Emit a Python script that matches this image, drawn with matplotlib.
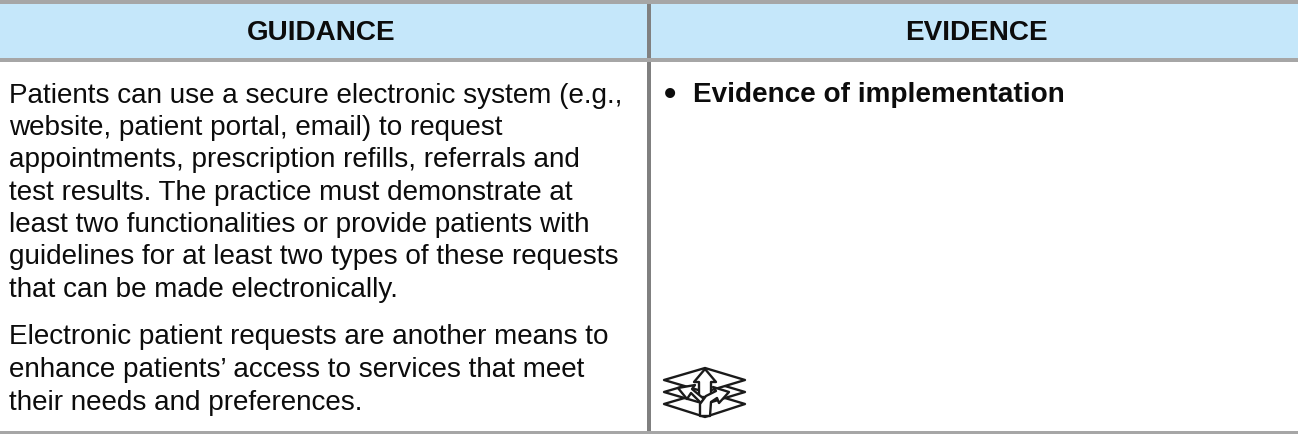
import matplotlib
matplotlib.use("Agg")
import matplotlib.pyplot as plt
from matplotlib.patches import Rectangle, Polygon

headers = ["GUIDANCE", "EVIDENCE"]
guidance_lines = [
    "Patients can use a secure electronic system (e.g.,",
    "website, patient portal, email) to request",
    "appointments, prescription refills, referrals and",
    "test results. The practice must demonstrate at",
    "least two functionalities or provide patients with",
    "guidelines for at least two types of these requests",
    "that can be made electronically.",
]
guidance_lines2 = [
    "Electronic patient requests are another means to",
    "enhance patients\u2019 access to services that meet",
    "their needs and preferences.",
]
evidence_item = "Evidence of implementation"
line_y1 = [103, 135, 167, 199.5, 231.5, 264, 297]
line_y2 = [344, 377, 410]

plt.rcParams['font.family'] = ['Liberation Sans', 'DejaVu Sans']
fig = plt.figure(figsize=(12.98, 4.34), dpi=100)
ax = fig.add_axes([0, 0, 1, 1])
ax.set_xlim(0, 1298)
ax.set_ylim(434, 0)
ax.axis('off')

ax.add_patch(Rectangle((0, 4), 1298, 54, fc='#C5E7FA', ec='none'))
ax.add_patch(Rectangle((647, 0), 4, 431, fc='#808080', ec='none', zorder=2))
for y0, h in [(0, 4), (58, 3.5), (431, 3)]:
    ax.add_patch(Rectangle((0, y0), 1298, h, fc='#A6A6A6', ec='none', zorder=3))

FS = 20.1
TC = '#0c0c0c'
ax.text(321, 40, headers[0], ha='center', va='baseline', fontsize=FS, fontweight='bold', color=TC)
ax.text(976, 40, headers[1], ha='center', va='baseline', fontsize=FS, fontweight='bold', color=TC)
for t, y in zip(guidance_lines, line_y1):
    ax.text(9, y, t, ha='left', va='baseline', fontsize=FS, color=TC)
for t, y in zip(guidance_lines2, line_y2):
    ax.text(9, y, t, ha='left', va='baseline', fontsize=FS, color=TC)
ax.text(670, 105, "\u2022", ha='center', va='baseline', fontsize=25, fontweight='bold', color=TC)
ax.text(693, 102, evidence_item, ha='left', va='baseline', fontsize=FS, fontweight='bold', color=TC)

# icon: stacked layers with arrows
lw = 1.7
k = '#1a1a1a'
def poly(pts, fc='white', z=5):
    ax.add_patch(Polygon(pts, closed=True, fc=fc, ec=k, lw=lw, zorder=z, joinstyle='round'))
poly([(664, 404), (705, 417), (745, 404), (705, 392)], z=5)
poly([(664, 392), (705, 404), (745, 392), (705, 380)], z=6)
poly([(664, 380), (705, 392), (745, 380), (705, 368)], z=7)
# up arrow
poly([(699, 397), (699, 382), (694, 382), (705, 369), (716, 382), (711, 382), (711, 397)], z=8)
# left arrow
poly([(701, 403), (691, 393), (687, 399), (678, 388), (695, 385), (692, 389), (704, 399)], z=9)
# right curved arrow
poly([(700, 416), (700, 404), (706, 396), (716, 391), (713, 387), (729, 392), (719, 403), (717, 398), (711, 402), (710, 416)], z=10)

fig.savefig("out.png", dpi=100)
